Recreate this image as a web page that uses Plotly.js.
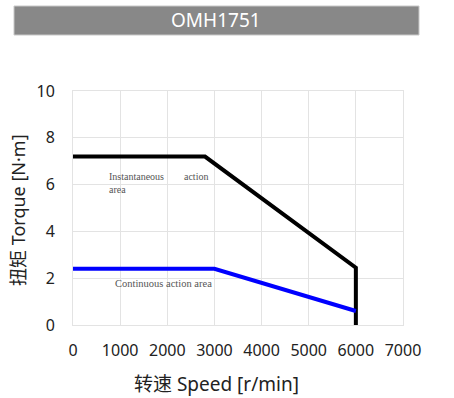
<!DOCTYPE html>
<html><head><meta charset="utf-8">
<script src="https://cdn.plot.ly/plotly-3.0.1.min.js"></script>
<style>body{margin:0;background:#fff}#c{width:454px;height:398px}</style>
</head><body><div id="c"></div>
<script>
const chartTitle = "OMH1751";
const instSpeed = [0, 2800, 6000, 6000];
const instTorque = [7.2, 7.2, 2.45, 0];
const contSpeed = [0, 3000, 6000];
const contTorque = [2.4, 2.4, 0.6];
const xTicks = [0,1000,2000,3000,4000,5000,6000,7000];
const yTicks = [0,2,4,6,8,10];

const W=454,H=398,L=73,R=51,T=91,B=73;
const pw=W-L-R, ph=H-T-B;
const px=x=>(x-L)/pw, py=y=>(H-B-y)/ph;
const font="'Noto Sans', 'Noto Sans CJK SC', sans-serif";

Plotly.newPlot('c',[
 {x:instSpeed,y:instTorque,mode:'lines',line:{color:'#000',width:4},hoverinfo:'skip'},
 {x:contSpeed,y:contTorque,mode:'lines',line:{color:'#0000ff',width:4},hoverinfo:'skip'}
],{
 width:W,height:H,margin:{l:L,r:R,t:T,b:B},showlegend:false,
 paper_bgcolor:'#fff',plot_bgcolor:'#fff',
 xaxis:{range:[0,7000],tickvals:xTicks,ticktext:xTicks.map(String),showgrid:true,gridcolor:'#e3e3e3',gridwidth:1,
   zeroline:false,showline:true,linecolor:'#e3e3e3',mirror:true,ticks:'outside',ticklen:11,tickcolor:'rgba(0,0,0,0)',
   tickfont:{family:font,size:16,color:'#222'}},
 yaxis:{range:[0,10],tickvals:yTicks,ticktext:yTicks.map(String),showgrid:true,gridcolor:'#e3e3e3',gridwidth:1,
   zeroline:false,showline:true,linecolor:'#e3e3e3',mirror:true,ticks:'outside',ticklen:14,tickcolor:'rgba(0,0,0,0)',
   tickfont:{family:font,size:16,color:'#222'}},
 shapes:[{type:'rect',xref:'paper',yref:'paper',x0:px(14),x1:px(419),y0:py(35),y1:py(6),
   fillcolor:'#888888',line:{color:'#c8c8c8',width:1},layer:'above'}],
 annotations:[
  {xref:'paper',yref:'paper',x:px(216),y:py(20.5),text:chartTitle,showarrow:false,
   font:{family:font,size:19,color:'#fff'},xanchor:'center',yanchor:'middle'},
  {xref:'paper',yref:'paper',x:px(216),y:py(384),text:'转速 Speed [r/min]',showarrow:false,
   font:{family:font,size:19,color:'#222'},xanchor:'center',yanchor:'middle'},
  {xref:'paper',yref:'paper',x:px(18),y:py(210),text:'扭矩 Torque [N·m]',showarrow:false,textangle:-90,
   font:{family:font,size:18,color:'#222'},xanchor:'center',yanchor:'middle'},
  {xref:'paper',yref:'paper',x:px(107),y:py(169),text:'Instantaneous&nbsp;&nbsp;&nbsp;&nbsp;&nbsp;&nbsp;&nbsp;&nbsp;action<br>area',align:'left',showarrow:false,
   font:{family:"'Liberation Serif', serif",size:10,color:'#555'},xanchor:'left',yanchor:'top'},
  {xref:'paper',yref:'paper',x:px(113),y:py(283),text:'Continuous action area',showarrow:false,
   font:{family:"'Liberation Serif', serif",size:10.5,color:'#555'},xanchor:'left',yanchor:'middle'}
 ]
},{staticPlot:true,displayModeBar:false});
</script></body></html>
